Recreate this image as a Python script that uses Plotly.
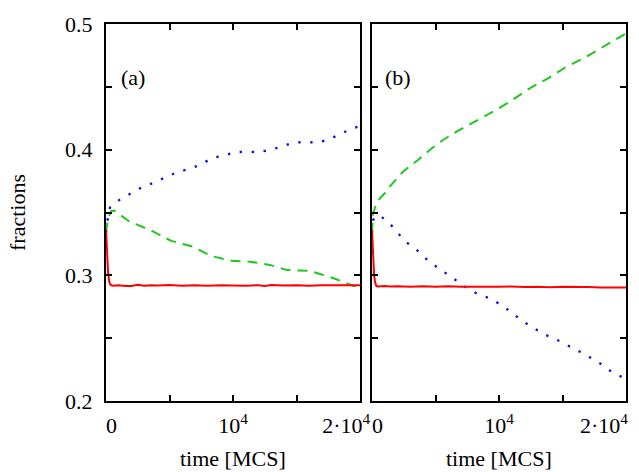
import plotly.graph_objects as go
from plotly.subplots import make_subplots

# panel (a)
t_red_a = [0, 80, 160, 250, 350, 500, 1000, 1500, 2000, 2500, 3000, 3500, 4000, 5000, 6000, 7000,
           8000, 9000, 10000, 11000, 12000, 12500, 13000, 14000, 15000, 16000, 17000, 18000, 19000, 20000]
red_a = [0.336, 0.318, 0.303, 0.295, 0.2925, 0.2918, 0.2922, 0.2916, 0.2915, 0.2924, 0.2917, 0.2921,
         0.2919, 0.2923, 0.2918, 0.2922, 0.2917, 0.2921, 0.2919, 0.2917, 0.2922, 0.2916, 0.2923, 0.2919,
         0.2922, 0.2918, 0.2921, 0.2919, 0.2917, 0.2921]

t_green_a = [0, 150, 400, 650, 1842, 3557, 5138, 6846, 8300, 9747, 11328, 12909, 14229, 16071,
             17913, 19494, 20000]
green_a = [0.334, 0.345, 0.351, 0.3515, 0.3428, 0.3357, 0.3274, 0.3228, 0.3154, 0.3117, 0.3109,
           0.3083, 0.3043, 0.3035, 0.2977, 0.2916, 0.2915]

t_blue_a = [0, 127, 316, 1107, 1976, 2814, 3700, 4688, 5581, 6530, 7455, 8348, 9247, 10142, 11091,
            11984, 12909, 13833, 14703, 15676, 16680, 17597, 18522, 19494, 20000]
blue_a = [0.334, 0.344, 0.354, 0.3605, 0.3653, 0.370, 0.3735, 0.378, 0.382, 0.3846, 0.388, 0.3934,
          0.3952, 0.398, 0.3984, 0.398, 0.3998, 0.4024, 0.4056, 0.4061, 0.4056, 0.4083, 0.413, 0.417,
          0.419]

# panel (b)
t_red_b = [0, 80, 160, 250, 350, 500, 1000, 1500, 2000, 3000, 4000, 5000, 6000, 7000, 8000, 9000,
           10000, 11000, 12000, 13000, 14000, 15000, 16000, 17000, 18000, 19000, 20000]
red_b = [0.336, 0.316, 0.301, 0.294, 0.2915, 0.2912, 0.2916, 0.2911, 0.2914, 0.2910, 0.2913, 0.2909,
         0.2913, 0.2910, 0.2908, 0.2912, 0.2909, 0.2911, 0.2907, 0.2910, 0.2906, 0.2909, 0.2905,
         0.2907, 0.2904, 0.2906, 0.2904]

t_green_b = [0, 79, 394, 1000, 1394, 2441, 3622, 4543, 5591, 6646, 8087, 9528, 10844, 12417, 13858,
             15307, 16882, 18457, 19764, 20000]
green_b = [0.334, 0.349, 0.3587, 0.3653, 0.3706, 0.3825, 0.3918, 0.3998, 0.4077, 0.4143, 0.4223,
           0.4302, 0.4382, 0.4488, 0.4568, 0.466, 0.474, 0.4833, 0.4912, 0.4925]

t_blue_b = [0, 79, 551, 1339, 2000, 2709, 3543, 4283, 5071, 5858, 6646, 7512, 8346, 9347, 10189,
            11024, 11811, 12677, 13543, 14465, 15386, 16299, 17142, 18031, 18874, 19716, 20000]
blue_b = [0.334, 0.344, 0.348, 0.342, 0.334, 0.3263, 0.320, 0.313, 0.3069, 0.3014, 0.2953, 0.2897,
          0.285, 0.2815, 0.2762, 0.2703, 0.2637, 0.2584, 0.2531, 0.2492, 0.2446, 0.2396, 0.2348,
          0.2295, 0.2232, 0.219, 0.2175]

x_ticks = [0, 5000, 10000, 15000, 20000]
x_labels_a = ["&nbsp;&nbsp;0", "", "10<sup>4</sup>", "", "2·10<sup>4</sup>" + "&nbsp;" * 5]
x_labels_b = ["&nbsp;&nbsp;0", "", "10<sup>4</sup>", "", "2·10<sup>4</sup>" + "&nbsp;" * 8]
y_ticks = [0.2, 0.25, 0.3, 0.35, 0.4, 0.45, 0.5]
y_labels = ["0.2", "", "0.3", "", "0.4", "", "0.5"]

RED = "#ff0000"
GREEN = "#1ec81e"
BLUE = "#1414dc"
FONT = "Liberation Serif"
FS = 22

# page body adds an 8px offset, so the figure is 8px smaller than the window
W, H = 631, 464
L, R, T, B = 98, 13, 16, 71
PW, PH = W - L - R, H - T - B


def px2x(px):
    return (px - 8 - L) / PW


def py2y(py):
    return 1 - (py - 8 - T) / PH


fig = make_subplots(rows=1, cols=2, horizontal_spacing=12 / PW)

panels = [(t_red_a, red_a, t_green_a, green_a, t_blue_a, blue_a),
          (t_red_b, red_b, t_green_b, green_b, t_blue_b, blue_b)]
for col, (tr, r, tg, g, tb, b) in enumerate(panels, start=1):
    fig.add_trace(go.Scatter(x=tb, y=b, mode="lines",
                             line=dict(color=BLUE, width=2.4, dash="2.4px,9.6px")), row=1, col=col)
    fig.add_trace(go.Scatter(x=tg, y=g, mode="lines",
                             line=dict(color=GREEN, width=2, dash="10px,7px")), row=1, col=col)
    fig.add_trace(go.Scatter(x=tr, y=r, mode="lines", line=dict(color=RED, width=2)), row=1, col=col)

axis_common = dict(showline=True, linecolor="black", linewidth=2, mirror="ticks",
                   ticks="inside", ticklen=6, tickwidth=1.5, tickcolor="black",
                   showgrid=False, zeroline=False, automargin=False,
                   tickfont=dict(family=FONT, size=FS, color="black"))

fig.update_xaxes(range=[0, 20000], tickmode="array", tickvals=x_ticks,
                 ticklabelstandoff=4, ticklabeloverflow="allow", **axis_common)
fig.update_xaxes(ticktext=x_labels_a, row=1, col=1)
fig.update_xaxes(ticktext=x_labels_b, row=1, col=2)
fig.update_yaxes(range=[0.2, 0.5], tickmode="array", tickvals=y_ticks, ticktext=y_labels,
                 ticklabelstandoff=7, **axis_common)
fig.update_yaxes(showticklabels=False, row=1, col=2)

fig.update_layout(
    width=W, height=H,
    margin=dict(l=L, r=R, t=T, b=B),
    plot_bgcolor="white", paper_bgcolor="white",
    showlegend=False,
    font=dict(family=FONT, size=FS, color="black"),
)

texts = [("(a)", 133, 77, 0), ("(b)", 398, 77, 0),
         ("time [MCS]", 233, 458, 0), ("time [MCS]", 499, 458, 0),
         ("fractions", 17, 213, -90)]
for txt, px, py, ang in texts:
    fig.add_annotation(text=txt, x=px2x(px), y=py2y(py), xref="paper", yref="paper",
                       xanchor="center", yanchor="middle", textangle=ang, showarrow=False,
                       font=dict(family=FONT, size=FS, color="black"))

fig.write_html("out.html")
